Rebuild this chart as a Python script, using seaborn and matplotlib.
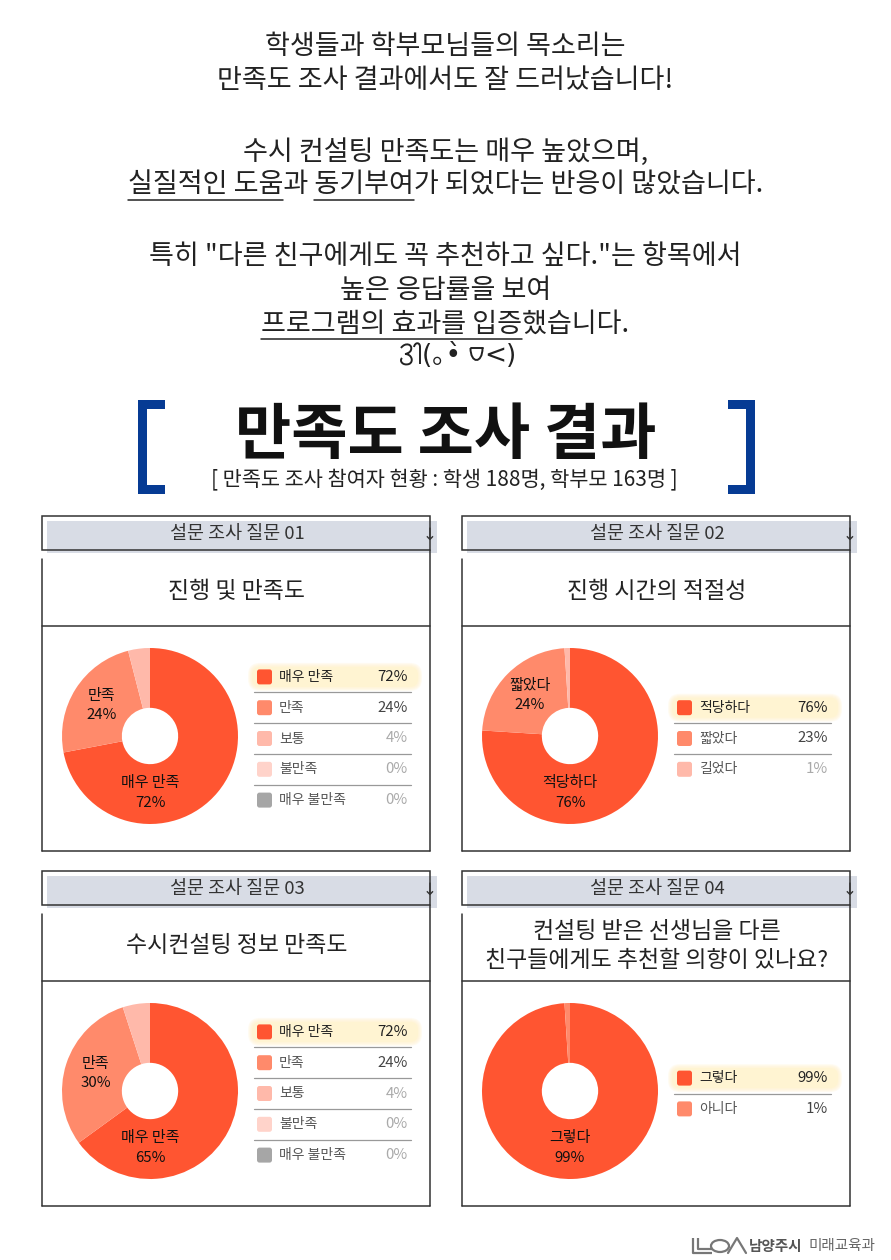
import matplotlib
matplotlib.use("Agg")
import matplotlib.pyplot as plt
import seaborn as sns
import numpy as np
from matplotlib.patches import Rectangle, FancyBboxPatch, Ellipse, PathPatch
from matplotlib.path import Path
from matplotlib.font_manager import FontProperties

sns.set_theme(style="white")
plt.rcParams['font.family'] = ['Noto Sans CJK KR', 'DejaVu Sans']

# 안내 문구
intro_lines = [
    "학생들과 학부모님들의 목소리는",
    "만족도 조사 결과에서도 잘 드러났습니다!",
    "수시 컨설팅 만족도는 매우 높았으며,",
    "실질적인 도움과 동기부여가 되었다는 반응이 많았습니다.",
    "특히 \"다른 친구에게도 꼭 추천하고 싶다.\"는 항목에서",
    "높은 응답률을 보여",
    "프로그램의 효과를 입증했습니다.",
]
intro_y = [47, 80, 152, 185, 256, 290, 324]
# (줄 번호, 앞부분, 밑줄 부분)
underlines = [(3, "", "실질적인 도움"), (3, "실질적인 도움과 ", "동기부여"),
              (6, "", "프로그램의 효과를 입증")]
# 이모티콘: 폰트에 없는 글자(ദ്ദി, ᗜ)는 도형으로 그림
emo_part1 = "(｡•̀ "
emo_part2 = "<)"

title = "만족도 조사 결과"
subtitle = "[ 만족도 조사 참여자 현황 : 학생 188명, 학부모 163명 ]"

headers = ["설문 조사 질문 01", "설문 조사 질문 02", "설문 조사 질문 03", "설문 조사 질문 04"]
questions = ["진행 및 만족도", "진행 시간의 적절성", "수시컨설팅 정보 만족도",
             "컨설팅 받은 선생님을 다른\n친구들에게도 추천할 의향이 있나요?"]

# 설문 데이터
q1_labels = ["매우 만족", "만족", "보통", "불만족", "매우 불만족"]
q1_pie = [72, 24, 4, 0, 0]
q1_legend = [72, 24, 4, 0, 0]
q1_pie_pct = [72, 24]

q2_labels = ["적당하다", "짧았다", "길었다"]
q2_pie = [76, 23, 1]
q2_legend = [76, 23, 1]
q2_pie_pct = [76, 24]

q3_labels = ["매우 만족", "만족", "보통", "불만족", "매우 불만족"]
q3_pie = [65, 30, 5, 0, 0]
q3_legend = [72, 24, 4, 0, 0]
q3_pie_pct = [65, 30]

q4_labels = ["그렇다", "아니다"]
q4_pie = [99, 1]
q4_legend = [99, 1]
q4_pie_pct = [99]

colors = sns.color_palette(["#FF5531", "#FF8A6B", "#FFB9AA", "#FFD3CA", "#A6A6A6"])

W, H = 891, 1260
fig = plt.figure(figsize=(W / 100, H / 100), dpi=100)
fig.patch.set_facecolor("white")
bg = fig.add_axes([0, 0, 1, 1])
bg.set_xlim(0, W)
bg.set_ylim(H, 0)
bg.axis("off")

renderer = fig.canvas.get_renderer()


def text_w(s, fp):
    w, h, d = renderer.get_text_width_height_descent(s, fp, ismath=False)
    return w


# 상단 문구
txt_c = "#222222"
intro_fp = FontProperties(family=['Noto Sans CJK KR', 'DejaVu Sans'], size=19.5, weight='medium')
for line, y in zip(intro_lines, intro_y):
    bg.text(W / 2, y, line, ha="center", va="center", fontproperties=intro_fp, color=txt_c)
for idx, pre, seg in underlines:
    full = text_w(intro_lines[idx], intro_fp)
    x0 = W / 2 - full / 2 + (text_w(pre, intro_fp) if pre else 0)
    x1 = x0 + text_w(seg, intro_fp)
    bg.plot([x0, x1], [intro_y[idx] + 15, intro_y[idx] + 15], color=txt_c, lw=1.1)

# 이모티콘
emo_fp = FontProperties(family=['DejaVu Sans', 'Noto Sans CJK KR'], size=19)
verts = [(401, 348), (405, 342), (413, 344), (411, 350),
         (410, 353), (406, 354), (405, 354),
         (412, 354), (414, 362), (409, 364),
         (403, 366), (399, 361), (402, 358)]
codes = [Path.MOVETO] + [Path.CURVE4] * 12
bg.add_patch(PathPatch(Path(verts, codes), fill=False, ec=txt_c, lw=1.4))
verts2 = [(414, 347), (415, 342), (420, 342), (420, 347), (420, 364)]
codes2 = [Path.MOVETO, Path.CURVE4, Path.CURVE4, Path.CURVE4, Path.LINETO]
bg.add_patch(PathPatch(Path(verts2, codes2), fill=False, ec=txt_c, lw=1.4))
px = 422
bg.text(px, 356, emo_part1, ha="left", va="center", fontproperties=emo_fp, color=txt_c)
ux = px + text_w(emo_part1, emo_fp) + 1
bg.plot([ux, ux + 12], [348, 348], color=txt_c, lw=1.4)
bg.add_patch(PathPatch(Path([(ux, 348), (ux, 364), (ux + 12, 364), (ux + 12, 348)],
                            [Path.MOVETO, Path.CURVE4, Path.CURVE4, Path.CURVE4]),
                       fill=False, ec=txt_c, lw=1.4))
bg.text(ux + 14, 356, emo_part2, ha="left", va="center", fontproperties=emo_fp, color=txt_c)

# 제목 괄호
blue = "#063B94"
for x, side in [(138, 1), (755, -1)]:
    bg.add_patch(Rectangle((x if side == 1 else x - 9, 400), 9, 94, color=blue, lw=0))
    bg.add_patch(Rectangle((x if side == 1 else x - 27, 400), 27, 9, color=blue, lw=0))
    bg.add_patch(Rectangle((x if side == 1 else x - 27, 485), 27, 9, color=blue, lw=0))
bg.text(446, 436, title, ha="center", va="center", fontsize=44, weight="black", color="#111111")
bg.text(444, 480, subtitle, ha="center", va="center", fontsize=15, color=txt_c)

panels = [
    (42, 0, q1_labels, q1_pie, q1_legend, q1_pie_pct),
    (462, 0, q2_labels, q2_pie, q2_legend, q2_pie_pct),
    (42, 1, q3_labels, q3_pie, q3_legend, q3_pie_pct),
    (462, 1, q4_labels, q4_pie, q4_legend, q4_pie_pct),
]

PW = 388
R = 88
line_c = "#333333"

for k, (left, row, labels, pie_vals, legend_vals, pie_pct) in enumerate(panels):
    top = 516 + row * 355
    # 헤더
    bg.add_patch(Rectangle((left + 5, top + 5), 390, 32, color="#D8DCE5", lw=0, zorder=1))
    bg.add_patch(Rectangle((left, top), PW, 34, fill=False, ec=line_c, lw=1.1, zorder=2))
    bg.text(left + 195, top + 18, headers[k], ha="center", va="center", fontsize=13.3,
            color="#333333", zorder=3)
    bg.text(left + 388, top + 19, "↓", ha="center", va="center", fontsize=12,
            family=['DejaVu Sans'], color="#333333", zorder=3)
    # 본문 박스
    bottom = top + 335
    bg.plot([left, left], [top + 43, bottom], color=line_c, lw=1.1)
    bg.plot([left + PW, left + PW], [top + 34, bottom], color=line_c, lw=1.1)
    bg.plot([left, left + PW], [bottom, bottom], color=line_c, lw=1.1)
    bg.plot([left, left + PW], [top + 110, top + 110], color=line_c, lw=1.1)
    bg.text(left + 195, top + 75, questions[k], ha="center", va="center", fontsize=16.5,
            color=txt_c, linespacing=1.35)

    # 도넛 차트
    cx, cy = left + 108, top + 220
    ax = fig.add_axes([(cx - R) / W, 1 - (cy + R) / H, 2 * R / W, 2 * R / H])
    n = len(pie_vals)
    wedges, _ = ax.pie(pie_vals, colors=colors[:n], startangle=90, counterclock=False,
                       radius=1, wedgeprops=dict(width=0.68, linewidth=0))
    ax.set_xlim(-1, 1)
    ax.set_ylim(-1, 1)
    ax.axis("off")
    for i, pct in enumerate(pie_pct):
        if i == 0:
            ang = -90
        else:
            ang = (wedges[i].theta1 + wedges[i].theta2) / 2
        a = np.deg2rad(ang)
        ax.text(0.65 * np.cos(a), 0.65 * np.sin(a), f"{labels[i]}\n{pct}%", ha="center",
                va="center", fontsize=10.8, weight="medium", color="#111111",
                linespacing=1.5)

    # 범례
    nrow = len(legend_vals)
    step = 30.8
    ys = [cy + 2.5 + (i - (nrow - 1) / 2) * step for i in range(nrow)]
    for g in range(4, 0, -1):
        bg.add_patch(FancyBboxPatch((left + 210 - g, ys[0] - 10 - g), 166 + 2 * g, 20 + 2 * g,
                                    boxstyle="round,pad=0,rounding_size=%d" % (8 + g),
                                    color="#FFF3CC", alpha=0.25, lw=0))
    bg.add_patch(FancyBboxPatch((left + 210, ys[0] - 10), 166, 20,
                                boxstyle="round,pad=0,rounding_size=8", color="#FFF4D2", lw=0))
    for i, (lab, val) in enumerate(zip(labels, legend_vals)):
        y = ys[i]
        bg.add_patch(FancyBboxPatch((left + 215, y - 7.5), 15, 15,
                                    boxstyle="round,pad=0,rounding_size=2.5",
                                    color=colors[i], lw=0))
        bg.text(left + 237, y, lab, ha="left", va="center", fontsize=10,
                color="#222222" if i == 0 else "#555555")
        vcol = "#222222" if i == 0 else ("#444444" if i == 1 else "#AAAAAA")
        bg.text(left + 366, y, f"{val}%", ha="right", va="center", fontsize=10.8, color=vcol)
        if i < nrow - 1:
            sy = (ys[i] + ys[i + 1]) / 2
            bg.plot([left + 212, left + 369], [sy, sy], color="#999999", lw=0.9)

# 하단 로고
logo_c = "#777777"
bg.plot([693, 693, 712], [1238, 1253, 1253], color=logo_c, lw=1.6, solid_capstyle="butt")
bg.plot([698, 698, 712], [1238, 1249, 1249], color=logo_c, lw=1.6, solid_capstyle="butt")
bg.add_patch(Ellipse((720, 1246), 18, 12, fill=False, ec=logo_c, lw=1.6))
bg.plot([728, 737, 746], [1253, 1238, 1253], color=logo_c, lw=1.6)
bg.text(749, 1246, "남양주시", ha="left", va="center", fontsize=10.5, weight="bold", color="#555555")
bg.text(808, 1246, "미래교육과", ha="left", va="center", fontsize=10.5, color="#666666")

fig.savefig("out.png", dpi=100, facecolor="white")
